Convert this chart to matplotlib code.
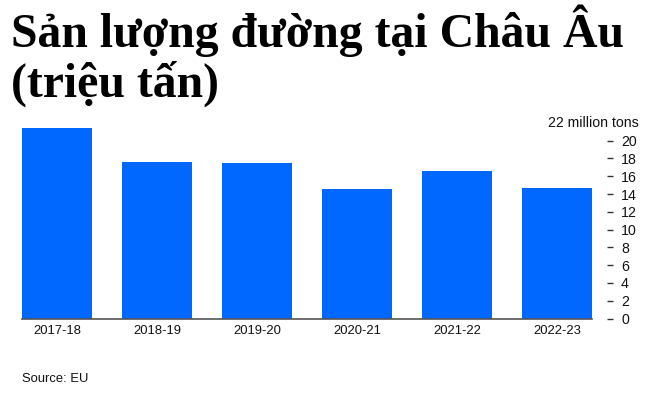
import matplotlib
matplotlib.use("Agg")
import matplotlib.pyplot as plt

categories = ["2017-18", "2018-19", "2019-20", "2020-21", "2021-22", "2022-23"]
values = [21.4, 17.65, 17.5, 14.6, 16.6, 14.65]
yticks = [0, 2, 4, 6, 8, 10, 12, 14, 16, 18, 20]
title1 = "Sản lượng đường tại Châu Âu"
title2 = "(triệu tấn)"
unit_label = "22 million tons"
source = "Source: EU"

W, H = 664, 401
fig = plt.figure(figsize=(W / 100, H / 100), dpi=100)
fig.patch.set_facecolor("white")

ax_left, ax_right = 22, 607
ax_bottom, ax_top = 318.5, 318.5 - 22 * 8.89
ax = fig.add_axes([ax_left / W, (H - ax_bottom) / H,
                   (ax_right - ax_left) / W, (ax_bottom - ax_top) / H])

x = list(range(len(categories)))
ax.bar(x, values, width=0.7, color="#0068ff", zorder=2)
ax.set_xlim(-0.35, 5.5)
ax.set_ylim(0, 22)

for s in ["top", "left", "right"]:
    ax.spines[s].set_visible(False)
ax.spines["bottom"].set_bounds(-0.35, 5.35)
ax.spines["bottom"].set_color("#555555")
ax.spines["bottom"].set_linewidth(1.2)
ax.spines["bottom"].set_zorder(3)

ax.set_xticks(x)
ax.set_xticklabels(categories, family="Liberation Sans", fontsize=9.4, color="#111111")
ax.tick_params(axis="x", length=0, pad=5)

ax.yaxis.tick_right()
ax.set_yticks(yticks)
ax.set_yticklabels([str(t) for t in yticks], family="Liberation Sans", fontsize=10.2,
                   color="#111111")
ax.tick_params(axis="y", direction="out", length=4.3, width=1.0, color="#333333",
               pad=5.8)

fig.text(639 / W, (H - 123) / H, unit_label, ha="right", va="center",
         family="Liberation Sans", fontsize=10.2, color="#111111")

fig.text(11 / W, (H - 47) / H, title1, ha="left", va="baseline",
         family="Liberation Serif", fontweight="bold", fontsize=34.4, color="black")
fig.text(11 / W, (H - 97) / H, title2, ha="left", va="baseline",
         family="Liberation Serif", fontweight="bold", fontsize=34.4, color="black")

fig.text(22 / W, (H - 379) / H, source, ha="left", va="center",
         family="Liberation Sans", fontsize=9.4, color="#111111")

fig.savefig("out.png", dpi=100, facecolor="white")
